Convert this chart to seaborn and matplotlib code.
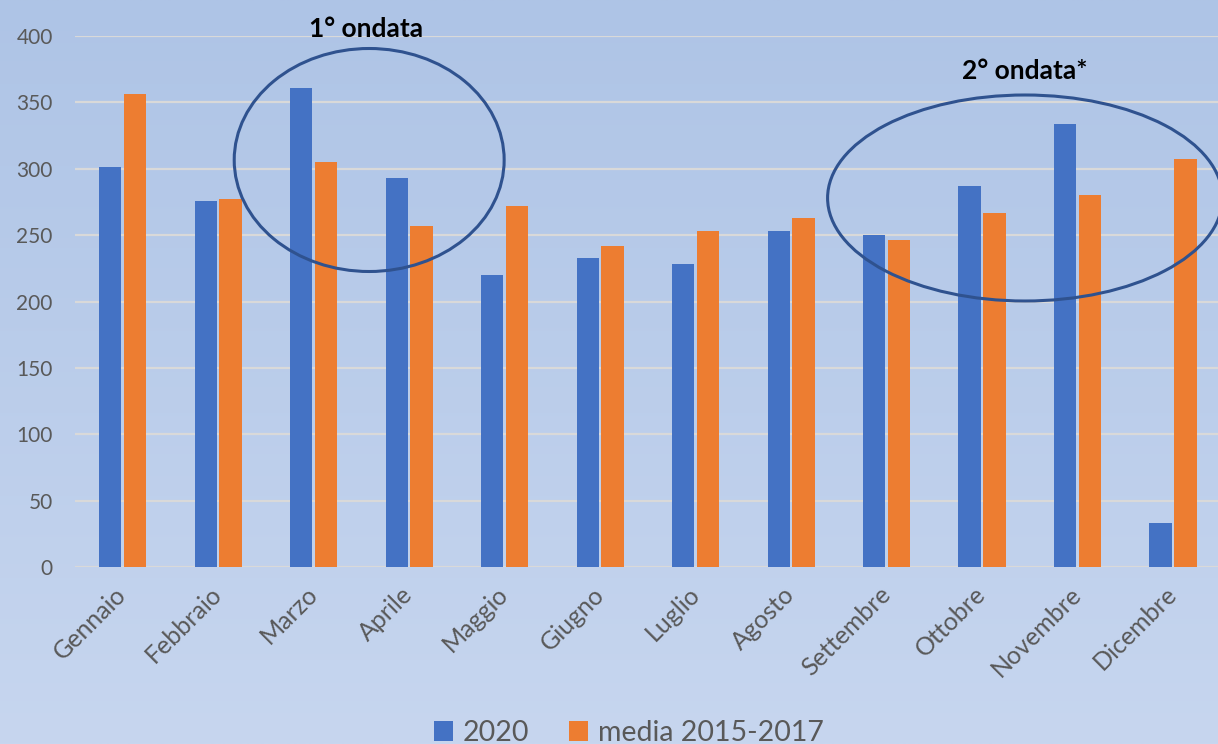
import numpy as np
import pandas as pd
import matplotlib
matplotlib.use("Agg")
import matplotlib.pyplot as plt
from matplotlib.patches import Ellipse, Patch
import seaborn as sns

mesi = ["Gennaio", "Febbraio", "Marzo", "Aprile", "Maggio", "Giugno",
        "Luglio", "Agosto", "Settembre", "Ottobre", "Novembre", "Dicembre"]
valori_2020 = [301, 276, 361, 293, 220, 233, 228, 253, 250, 287, 334, 33]
media_2015_2017 = [356, 277, 305, 257, 272, 242, 253, 263, 246, 267, 280, 307]
serie = ["2020", "media 2015-2017"]
yticks = [0, 50, 100, 150, 200, 250, 300, 350, 400]

df = pd.DataFrame({
    "mese": mesi * 2,
    "valore": valori_2020 + media_2015_2017,
    "serie": [serie[0]] * 12 + [serie[1]] * 12,
})

sns.set_theme(style="white")
plt.rcParams["font.family"] = ["Lato", "DejaVu Sans"]

W, H = 1218, 744
fig = plt.figure(figsize=(W / 100, H / 100), dpi=100)

# background gradient
bg = fig.add_axes([0, 0, 1, 1], zorder=-10)
top = np.array([174, 196, 230]) / 255
bot = np.array([199, 214, 239]) / 255
t = np.linspace(0, 1, 256)[:, None]
grad = top[None, :] * (1 - t) + bot[None, :] * t
bg.imshow(np.repeat(grad[:, None, :], 2, axis=1), aspect="auto", extent=[0, 1, 0, 1])
bg.axis("off")

left = 75 / W
bottom = 1 - 567 / H
height = (567 - 36) / H
ax = fig.add_axes([left, bottom, 1 - left, height])
ax.set_facecolor("none")

colors = {"2020": "#4472c4", "media 2015-2017": "#ed7d31"}
sns.barplot(data=df, x="mese", y="valore", hue="serie", order=mesi,
            hue_order=serie, palette=colors, width=0.52, gap=0.1,
            saturation=1, ax=ax, legend=False, zorder=3, linewidth=0,
            edgecolor="none")

step = 95.5
ax.set_xlim(-0.5, (W - 122.5) / step)
ax.set_ylim(0, 400)
ax.set_yticks(yticks)
ax.yaxis.grid(True, color="#d9d9d9", lw=1.6, zorder=0)
ax.set_axisbelow(True)
for s in ax.spines.values():
    s.set_visible(False)
ax.set_xlabel("")
ax.set_ylabel("")
ax.tick_params(axis="y", length=0, pad=16, labelsize=15, labelcolor="#595959")
ax.tick_params(axis="x", length=0, pad=17, labelsize=18, labelcolor="#595959")
for lbl in ax.get_xticklabels():
    lbl.set_rotation(45)
    lbl.set_ha("right")
    lbl.set_rotation_mode("anchor")
    lbl.set_va("center")

def px_to_data(px, py):
    return (px - 122.5) / step, (567 - py) / 1.3275

cx, cy = px_to_data(369, 160)
ax.add_patch(Ellipse((cx, cy), 270 / step, 223 / 1.3275, fill=False,
                     edgecolor="#2f528f", lw=2.2, zorder=5, clip_on=False))
cx, cy = px_to_data(1025, 198)
ax.add_patch(Ellipse((cx, cy), 395 / step, 206 / 1.3275, fill=False,
                     edgecolor="#2f528f", lw=2.2, zorder=5, clip_on=False))

tx, ty = px_to_data(366, 29)
ax.text(tx, ty, "1° ondata", ha="center", va="center", fontsize=19,
        fontweight="bold", color="black", clip_on=False)
tx, ty = px_to_data(1025, 71)
ax.text(tx, ty, "2° ondata*", ha="center", va="center", fontsize=19,
        fontweight="bold", color="black", clip_on=False)

handles = [Patch(facecolor=colors[s], edgecolor="none") for s in serie]
fig.legend(handles, serie, loc="center", bbox_to_anchor=(629 / W, 1 - 733 / H),
           ncol=2, frameon=False, fontsize=20.5, labelcolor="#595959",
           handlelength=0.65, handleheight=0.65, handletextpad=0.35,
           columnspacing=1.4)

fig.savefig("out.png", dpi=100)
